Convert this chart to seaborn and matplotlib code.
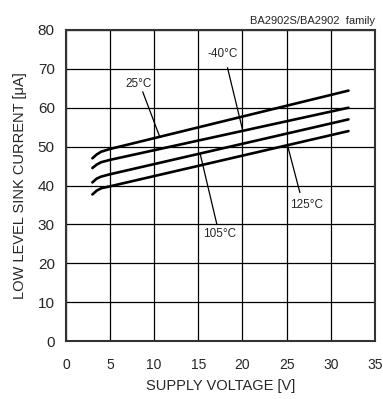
import pandas as pd
import matplotlib
matplotlib.use("Agg")
import matplotlib.pyplot as plt
import seaborn as sns

voltage = [3, 3.5, 4, 5, 32]
i_25 = [47.0, 48.0, 48.7, 49.4, 64.4]
i_m40 = [44.5, 45.4, 46.0, 46.6, 60.0]
i_105 = [40.8, 41.8, 42.3, 42.9, 57.0]
i_125 = [37.7, 38.7, 39.3, 39.8, 54.0]
temps = ["25°C", "-40°C", "105°C", "125°C"]

rows = []
for t, vals in zip(temps, [i_25, i_m40, i_105, i_125]):
    for v, c in zip(voltage, vals):
        rows.append({"V": v, "I": c, "T": t})
df = pd.DataFrame(rows)

sns.set_style("white")
plt.rcParams["font.family"] = ["Liberation Sans", "DejaVu Sans"]

fig = plt.figure(figsize=(3.83, 3.99), dpi=100)
ax = fig.add_axes([0.172, 0.145, 0.807, 0.78])
sns.lineplot(data=df, x="V", y="I", hue="T", palette=["black"] * 4,
             linewidth=1.9, legend=False, ax=ax)

ax.set_xlim(0, 35)
ax.set_ylim(0, 80)
ax.set_xticks(range(0, 36, 5))
ax.set_yticks(range(0, 81, 10))
ax.grid(True, color="black", linewidth=0.9)
ax.tick_params(length=0)
ax.tick_params(axis="x", labelsize=10, pad=12)
ax.tick_params(axis="y", labelsize=11, pad=8)
for s in ax.spines.values():
    s.set_color("#333333")
    s.set_linewidth(1.5)

ax.set_xlabel("SUPPLY VOLTAGE [V]", fontsize=10.5, labelpad=5)
ax.set_ylabel("LOW LEVEL SINK CURRENT [μA]", fontsize=10.5, labelpad=8)
ax.text(1.0, 1.012, "BA2902S/BA2902  family", transform=ax.transAxes,
        ha="right", va="bottom", fontsize=8)

# (label, text pos, leader start, leader end)
notes = [
    ("25°C", (8.2, 66.0), (8.7, 64.1), (10.6, 52.7)),
    ("-40°C", (17.8, 73.8), (18.3, 70.3), (20.0, 54.4)),
    ("105°C", (17.4, 27.6), (17.1, 30.0), (15.2, 48.2)),
    ("125°C", (27.3, 35.0), (26.5, 38.2), (25.1, 50.3)),
]
for lab, tp, p0, p1 in notes:
    ax.plot([p0[0], p1[0]], [p0[1], p1[1]], color="black", linewidth=0.9)
    ax.text(tp[0], tp[1], lab, ha="center", va="center", fontsize=8.5,
            bbox=dict(facecolor="white", edgecolor="none", pad=0.5))

fig.savefig("out.png", dpi=100)
